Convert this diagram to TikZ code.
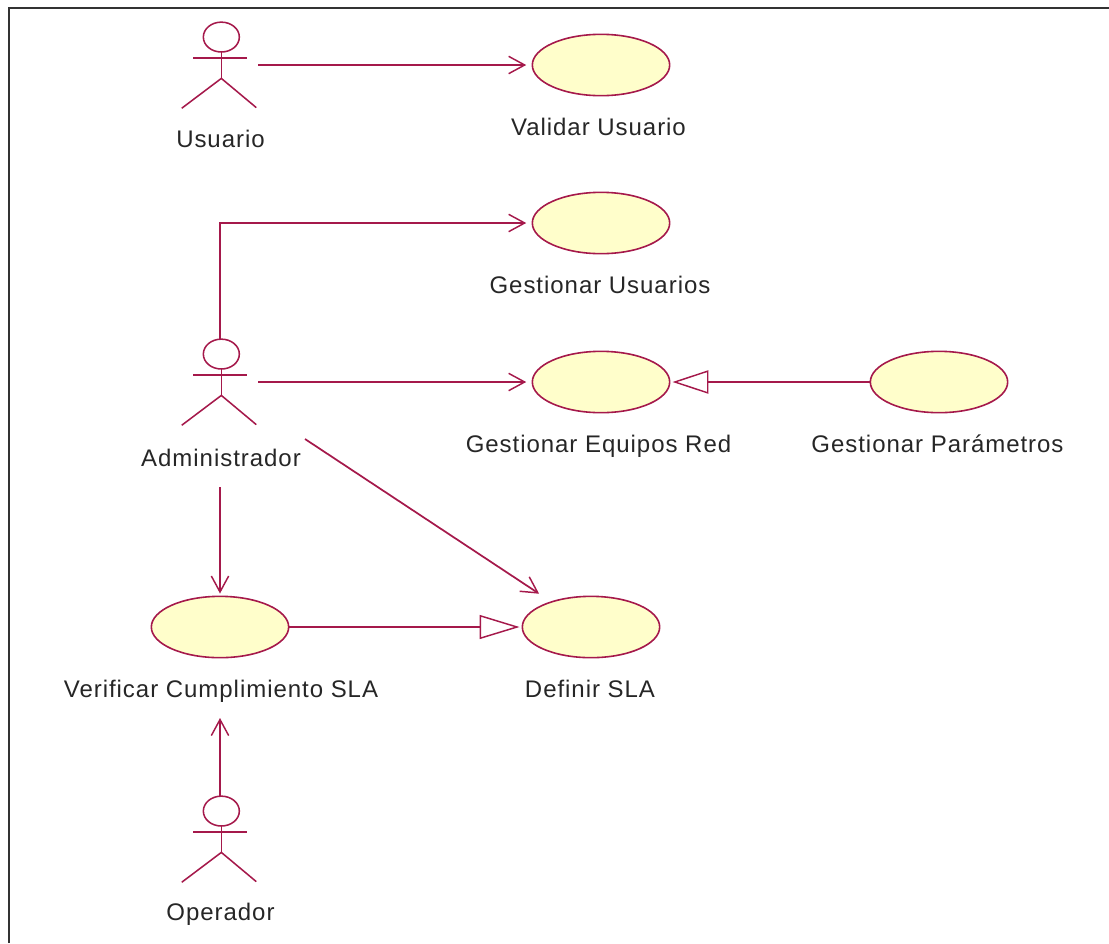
\documentclass[tikz,border=0pt]{standalone}
\usepackage{fontspec}
\setmainfont{Liberation Sans}[LetterSpace=4]
\usetikzlibrary{shapes.geometric,arrows.meta}
\definecolor{umlline}{RGB}{165,25,75}
\definecolor{umlfill}{RGB}{255,254,203}
\definecolor{framegray}{RGB}{50,50,50}
\tikzset{
  usecase/.style={ellipse,draw=umlline,fill=umlfill,line width=1.2pt,minimum width=103pt,minimum height=46pt,inner sep=0pt},
  actorbox/.style={rectangle,minimum width=57pt,minimum height=64.5pt,inner sep=0pt},
  label/.style={inner sep=0pt,anchor=base,font=\fontsize{18}{20}\selectfont,text=black!85},
  conn/.style={draw=umlline,line width=1.3pt},
  figline/.style={draw=umlline,line width=1.15pt},
  assoc/.style={conn,-{Straight Barb[length=12pt,width=13pt,line width=1.1pt]}},
  general/.style={conn,-{Triangle[open,length=27pt,width=17.5pt,fill=white,line width=1.1pt]}},
  generalwide/.style={conn,-{Triangle[open,length=30pt,width=18pt,fill=white,line width=1.1pt]}},
}
\newcommand{\actorfig}[1]{%
  \draw[figline] ([xshift=1pt,yshift=-11.5pt]#1.north) ellipse (13.5pt and 11.2pt);
  \draw[figline] ([xshift=1pt,yshift=-22.7pt]#1.north) -- ([xshift=1pt,yshift=-42.5pt]#1.north);
  \draw[figline] ([xshift=-20pt,yshift=-27pt]#1.north) -- ([xshift=20pt,yshift=-27pt]#1.north);
  \draw[figline] (#1.south west) -- ([xshift=1pt,yshift=-42.5pt]#1.north) -- ([xshift=-1.5pt,yshift=.5pt]#1.south east);
}
\begin{document}
\begin{tikzpicture}[x=.75pt,y=-.75pt]
\useasboundingbox (0,0) rectangle (1109,943);
\draw[draw=framegray,line width=1.5pt] (9,943) -- (9,8) -- (1109,8);
\node[actorbox] (usuario) at (220,65) {};
\node[actorbox] (admin) at (220,382) {};
\node[actorbox] (operador) at (220,839) {};
\actorfig{usuario}\actorfig{admin}\actorfig{operador}
\node[usecase] (validar) at (601,65) {};
\node[usecase] (gusuarios) at (601,223) {};
\node[usecase] (gequipos) at (601,382) {};
\node[usecase] (gparam) at (939,382) {};
\node[usecase] (verificar) at (220,627) {};
\node[usecase] (definir) at (591,627) {};
\node[label] (lusuario) at (220.5,147) {Usuario};
\node[label] (lvalidar) at (598.5,135) {Validar Usuario};
\node[label] (lgusuarios) at (600,293) {Gestionar Usuarios};
\node[label] (ladmin) at (221,466) {Administrador};
\node[label] (lgequipos) at (598.5,452) {Gestionar Equipos Red};
\node[label] (lgparam) at (937.5,452) {Gestionar Parámetros};
\node[label] (lverificar) at (221,697) {Verificar Cumplimiento SLA};
\node[label] (ldefinir) at (590,697) {Definir SLA};
\node[label] (loperador) at (220.5,920) {Operador};
\coordinate (diag) at (305,439);
\coordinate (opup) at (220,718);
\coordinate (admdown) at (220,487);
\draw[assoc,shorten >=4pt] (usuario.east) -- (validar.west);
\draw[assoc,shorten >=4pt] (admin.north) |- (gusuarios.west);
\draw[assoc,shorten >=4pt] (admin.east) -- (gequipos.west);
\draw[general,shorten >=1.5pt] (gparam.west) -- (gequipos.east);
\draw[assoc,shorten >=2.5pt] (diag) -- (definir.north west |- definir.north);
\draw[assoc,shorten >=1.5pt] (admdown) -- (verificar.north);
\draw[generalwide,shorten >=1.5pt] (verificar.east) -- (definir.west);
\draw[assoc] (operador.north) -- (opup);
\end{tikzpicture}
\end{document}
